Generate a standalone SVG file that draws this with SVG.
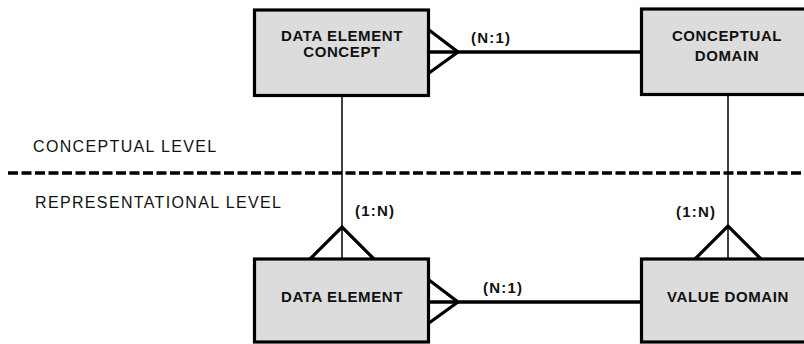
<svg xmlns="http://www.w3.org/2000/svg" width="804" height="344" viewBox="0 0 804 344">
<style>
.box{fill:#dcdcdc;stroke:#000;stroke-width:3.2}
.bt{font-family:"Liberation Sans",Arial,sans-serif;font-size:15px;font-weight:bold;letter-spacing:0.6px;text-anchor:middle;fill:#111}
.lvl{font-family:"Liberation Sans",Arial,sans-serif;font-size:16px;letter-spacing:1.35px;fill:#111}
.card{font-family:"Liberation Sans",Arial,sans-serif;font-size:15px;font-weight:bold;letter-spacing:1.2px;fill:#111}
.thick{stroke:#000;stroke-width:3.5;fill:none}
.thin{stroke:#000;stroke-width:1.5;fill:none}
.crow{stroke:#000;stroke-width:3.2;fill:none;stroke-linejoin:miter}
</style>
<rect width="804" height="344" fill="#fff"/>
<g id="connectors">
<line class="thick" x1="429" y1="52" x2="642" y2="52"/>
<polyline class="crow" points="429,30 458,52 429,73"/>
<line class="thick" x1="429" y1="302" x2="642" y2="302"/>
<polyline class="crow" points="429,280 458,302 429,323"/>
<line class="thin" x1="342" y1="96" x2="342" y2="259"/>
<polyline class="crow" points="310,259 342,227 374,259"/>
<line class="thin" x1="728" y1="94" x2="728" y2="259"/>
<polyline class="crow" points="695,259 728,226 761,259"/>
<text class="card" x="471" y="43">(N:1)</text>
<text class="card" x="483" y="293">(N:1)</text>
<text class="card" x="355" y="216">(1:N)</text>
<text class="card" x="676" y="217">(1:N)</text>
</g>
<g id="divider">
<line x1="8" y1="173" x2="804" y2="173" stroke="#000" stroke-width="3.5" stroke-dasharray="10,3.5"/>
<text class="lvl" x="33" y="152">CONCEPTUAL LEVEL</text>
<text class="lvl" x="35" y="208">REPRESENTATIONAL LEVEL</text>
</g>
<g id="data-element-concept">
<rect class="box" x="254.5" y="10" width="174" height="85.5"/>
<text class="bt" x="342" y="40.5">DATA ELEMENT</text>
<text class="bt" x="342" y="56.5">CONCEPT</text>
</g>
<g id="conceptual-domain">
<rect class="box" x="641.5" y="9" width="175" height="85.5"/>
<text class="bt" x="727" y="41">CONCEPTUAL</text>
<text class="bt" x="727" y="61">DOMAIN</text>
</g>
<g id="data-element">
<rect class="box" x="254.5" y="259" width="174" height="83"/>
<text class="bt" x="342" y="302">DATA ELEMENT</text>
</g>
<g id="value-domain">
<rect class="box" x="641.5" y="259" width="175" height="83"/>
<text class="bt" x="728" y="302">VALUE DOMAIN</text>
</g>
</svg>
